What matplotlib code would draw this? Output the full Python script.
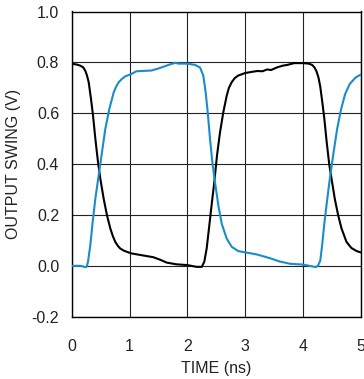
import matplotlib
matplotlib.use("Agg")
import matplotlib.pyplot as plt

plt.rcParams['font.family'] = ['Liberation Sans', 'DejaVu Sans']

# Black trace
t_black = [0.00, 0.08, 0.15, 0.20, 0.235, 0.265, 0.294, 0.334, 0.369, 0.409, 0.455, 0.495,
           0.553, 0.61, 0.668, 0.71, 0.754, 0.80, 0.84, 0.90, 0.957, 1.03, 1.18, 1.41,
           1.53, 1.64, 1.81, 2.00, 2.16, 2.25, 2.294, 2.335, 2.375, 2.42, 2.467, 2.514,
           2.566, 2.623, 2.682, 2.72, 2.768, 2.82, 2.88, 3.00, 3.10, 3.21, 3.30, 3.38,
           3.45, 3.55, 3.65, 3.73, 3.85, 4.00, 4.10, 4.16, 4.20, 4.235, 4.27, 4.30,
           4.335, 4.37, 4.41, 4.455, 4.495, 4.553, 4.61, 4.668, 4.754, 4.84, 4.93, 5.00]
v_black = [0.794, 0.792, 0.787, 0.78, 0.767, 0.748, 0.722, 0.656, 0.591, 0.50, 0.408, 0.343,
           0.264, 0.199, 0.147, 0.118, 0.094, 0.078, 0.068, 0.06, 0.055, 0.049, 0.043, 0.034,
           0.024, 0.013, 0.006, 0.003, -0.004, -0.004, 0.016, 0.068, 0.147, 0.238, 0.329, 0.434,
           0.525, 0.604, 0.669, 0.70, 0.722, 0.738, 0.748, 0.758, 0.762, 0.766, 0.765, 0.772,
           0.77, 0.78, 0.787, 0.79, 0.797, 0.797, 0.795, 0.79, 0.78, 0.765, 0.74, 0.705,
           0.645, 0.58, 0.49, 0.40, 0.343, 0.262, 0.199, 0.147, 0.094, 0.07, 0.058, 0.053]

# Blue trace
t_blue = [0.00, 0.15, 0.235, 0.26, 0.282, 0.322, 0.363, 0.409, 0.467, 0.524, 0.582, 0.651,
          0.727, 0.77, 0.813, 0.87, 0.927, 1.03, 1.12, 1.38, 1.50, 1.59, 1.70, 1.79,
          1.85, 2.00, 2.133, 2.22, 2.277, 2.318, 2.353, 2.393, 2.433, 2.479, 2.537, 2.595,
          2.682, 2.768, 2.88, 3.00, 3.20, 3.43, 3.60, 3.78, 4.00, 4.18, 4.22, 4.26,
          4.30, 4.33, 4.37, 4.42, 4.47, 4.53, 4.59, 4.66, 4.73, 4.81, 4.91, 5.00]
v_blue = [0.0, 0.0, -0.005, -0.003, 0.016, 0.081, 0.173, 0.264, 0.356, 0.447, 0.539, 0.617,
          0.682, 0.705, 0.722, 0.735, 0.745, 0.754, 0.765, 0.768, 0.776, 0.783, 0.792, 0.798,
          0.795, 0.795, 0.79, 0.78, 0.748, 0.682, 0.604, 0.50, 0.408, 0.329, 0.238, 0.166,
          0.107, 0.075, 0.058, 0.053, 0.045, 0.03, 0.017, 0.008, 0.005, -0.003,
          -0.005, 0.0, 0.02, 0.075, 0.165, 0.26, 0.35, 0.445, 0.535, 0.615, 0.675, 0.715, 0.74, 0.752]

x_ticks = [0, 1, 2, 3, 4, 5]
y_ticks = [-0.2, 0.0, 0.2, 0.4, 0.6, 0.8, 1.0]
y_tick_labels = ["-0.2", "0.0", "0.2", "0.4", "0.6", "0.8", "1.0"]

W, H = 364, 379
fig = plt.figure(figsize=(W / 100, H / 100), dpi=100)
left, right, top, bottom = 71.7, 360.7, 11.5, 316.7
ax = fig.add_axes([left / W, 1 - bottom / H, (right - left) / W, (bottom - top) / H])

ax.plot(t_black, v_black, color='black', lw=1.5, zorder=3)
ax.plot(t_blue, v_blue, color='#1a8ccc', lw=1.5, zorder=3)

ax.set_xlim(0, 5)
ax.set_ylim(-0.2, 1.0)
ax.set_xticks(x_ticks)
ax.set_xticklabels([str(v) for v in x_ticks])
ax.set_yticks(y_ticks)
ax.set_yticklabels(y_tick_labels)
ax.grid(True, color='#222222', lw=0.8, zorder=1)
ax.set_axisbelow(True)
for s in ax.spines.values():
    s.set_color('black')
    s.set_linewidth(1.0)
ax.tick_params(axis='both', length=0, labelsize=11.5, colors='#222222')
ax.tick_params(axis='x', pad=16)
ax.tick_params(axis='y', pad=9)

ax.set_xlabel("TIME (ns)", fontsize=11.5, color='#222222', labelpad=5)
ax.set_ylabel("OUTPUT SWING (V)", fontsize=11.5, color='#222222', labelpad=8)

fig.savefig("out.png", dpi=100)
